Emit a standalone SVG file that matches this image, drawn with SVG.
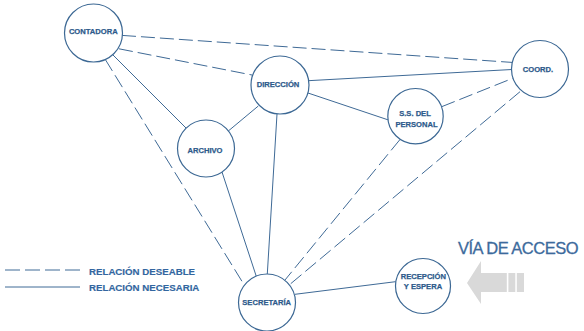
<svg xmlns="http://www.w3.org/2000/svg" width="584" height="331" viewBox="0 0 584 331">
<style>
.node circle{fill:#fff;stroke:#3c6894;stroke-width:1.2}
.lbl{font-family:"Liberation Sans",Arial,sans-serif;font-weight:bold;font-size:7.6px;fill:#2d5a8b;stroke:#2d5a8b;stroke-width:0.25;text-anchor:middle}
.sol{stroke:#3f6a96;stroke-width:1;fill:none}
.dsh{stroke:#3f6a96;stroke-width:1;fill:none;stroke-dasharray:14 5}
.leg{font-family:"Liberation Sans",Arial,sans-serif;font-weight:bold;font-size:9.7px;fill:#3266a0;stroke:#3266a0;stroke-width:0.15}
</style>
<rect width="584" height="331" fill="#fff"/>
<g id="connectors">
<line class="dsh" x1="122" y1="35.4" x2="512" y2="62.4"/>
<line class="dsh" x1="119" y1="48.8" x2="252" y2="75"/>
<line class="sol" x1="113" y1="55" x2="187" y2="129"/>
<line class="dsh" x1="105" y1="59" x2="243" y2="283"/>
<line class="sol" x1="308.3" y1="80.7" x2="512" y2="69.5"/>
<line class="sol" x1="306.5" y1="92.5" x2="388.5" y2="120"/>
<line class="sol" x1="258.3" y1="106" x2="228.3" y2="131"/>
<line class="sol" x1="277" y1="114" x2="267.3" y2="274"/>
<line class="sol" x1="222" y1="172" x2="256.5" y2="277"/>
<line class="dsh" x1="441.7" y1="106.7" x2="512.7" y2="78.3"/>
<line class="dsh" x1="400" y1="139.5" x2="285" y2="280"/>
<line class="dsh" x1="520" y1="91.7" x2="290" y2="284.3"/>
<line class="sol" x1="295" y1="294.3" x2="395.5" y2="281.7"/>
</g>
<g id="contadora" class="node"><circle cx="93.5" cy="33" r="29"/><text class="lbl" x="93.3" y="33.8">CONTADORA</text></g>
<g id="direccion" class="node"><circle cx="280" cy="85" r="29"/><text class="lbl" x="278" y="86.8">DIRECCIÓN</text></g>
<g id="coord" class="node"><circle cx="540" cy="69" r="28.5"/><text class="lbl" x="538" y="71.8">COORD.</text></g>
<g id="ss-personal" class="node"><circle cx="415.5" cy="116.2" r="27.7"/><text class="lbl" x="415" y="116">S.S. DEL</text><text class="lbl" x="416.5" y="126.8">PERSONAL</text></g>
<g id="archivo" class="node"><circle cx="206" cy="148.5" r="28.5"/><text class="lbl" x="205" y="152.8">ARCHIVO</text></g>
<g id="secretaria" class="node"><circle cx="267" cy="302.5" r="28.5"/><text class="lbl" x="266.7" y="304.5">SECRETARÍA</text></g>
<g id="recepcion" class="node"><circle cx="423" cy="286" r="27.5"/><text class="lbl" x="423.3" y="278.5">RECEPCIÓN</text><text class="lbl" x="423" y="288.5">Y ESPERA</text></g>
<g id="legend">
<line class="dsh" x1="5" y1="270" x2="80" y2="270" style="stroke-dasharray:15 5"/>
<line class="sol" x1="5" y1="287" x2="80" y2="287"/>
<text class="leg" x="89" y="274.5">RELACIÓN DESEABLE</text>
<text class="leg" x="89" y="291">RELACIÓN NECESARIA</text>
</g>
<g id="via-acceso">
<text x="458" y="254" font-family="'Liberation Sans',Arial,sans-serif" font-size="16.5" letter-spacing="-0.5" fill="#3c6a9c" stroke="#3c6a9c" stroke-width="0.3">VÍA DE ACCESO</text>
<polygon points="467,283 481,261 481,273 524,273 524,292 481,292 481,304" fill="#d9d9d9"/>
<rect x="506.8" y="273" width="1.6" height="19" fill="#fff"/>
<rect x="515.3" y="273" width="1.5" height="19" fill="#fff"/>
</g>
</svg>
